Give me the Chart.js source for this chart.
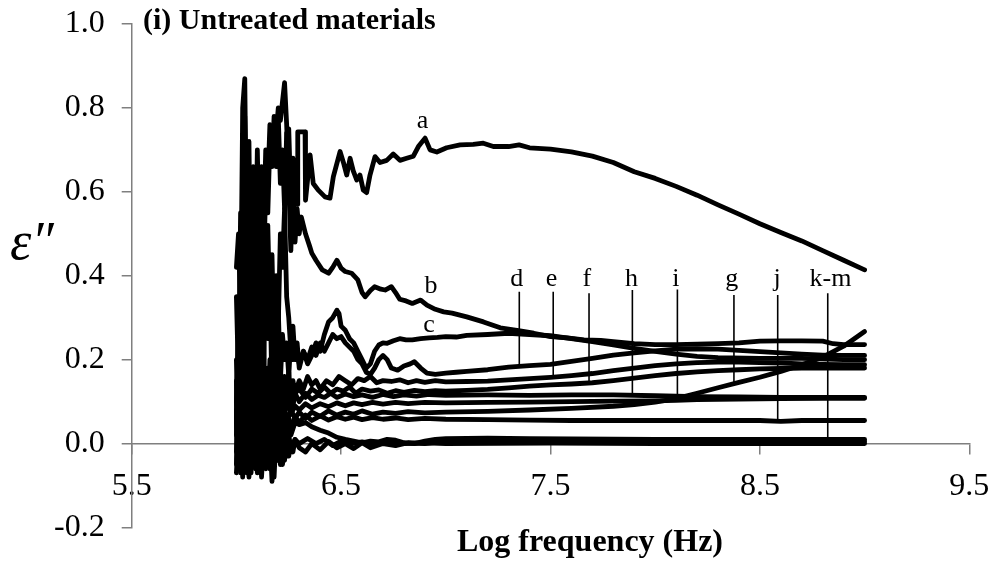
<!DOCTYPE html>
<html>
<head>
<meta charset="utf-8">
<title>Untreated materials - dielectric loss</title>
<script src="https://cdn.jsdelivr.net/npm/chart.js@4.4.1/dist/chart.umd.min.js"></script>
<style>
  html, body { margin: 0; padding: 0; background: #fff; }
  #lossChart { display: block; }
</style>
</head>
<body>
<canvas id="lossChart" width="997" height="565"></canvas>
<script>
// axis ticks
const xTicks = [5.5, 6.5, 7.5, 8.5, 9.5];
const yTicks = [-0.2, 0.0, 0.2, 0.4, 0.6, 0.8, 1.0];

// loss factor curves, [log frequency, e'']
const curveA = [
  [6.00,0.42],[6.01,0.50],[6.02,0.30],[6.03,0.80],[6.04,0.87],[6.05,0.40],[6.06,0.62],[6.07,0.35],[6.08,0.66],[6.09,0.45],
  [6.10,0.62],[6.11,0.38],[6.12,0.60],[6.13,0.50],[6.14,0.70],[6.15,0.62],[6.16,0.76],[6.17,0.70],[6.18,0.74],[6.19,0.66],
  [6.20,0.78],[6.21,0.62],[6.22,0.70],[6.23,0.56],[6.24,0.74],[6.25,0.75],[6.26,0.58],[6.27,0.68],[6.28,0.60],[6.29,0.57],
  [6.293,0.743],[6.328,0.743],[6.33,0.58],[6.352,0.688],[6.367,0.62],[6.391,0.604],[6.423,0.588],[6.447,0.585],[6.463,0.636],[6.495,0.696],
  [6.511,0.67],[6.527,0.64],[6.543,0.68],[6.558,0.65],[6.575,0.628],[6.59,0.64],[6.606,0.604],[6.622,0.598],[6.638,0.64],[6.662,0.684],
  [6.686,0.67],[6.718,0.675],[6.749,0.69],[6.781,0.675],[6.813,0.68],[6.845,0.685],[6.869,0.708],[6.901,0.728],[6.925,0.70],[6.957,0.695],
  [7.004,0.705],[7.068,0.712],[7.131,0.713],[7.179,0.716],[7.227,0.708],[7.30,0.708],[7.35,0.712],[7.40,0.705],[7.50,0.702],[7.60,0.695],
  [7.70,0.685],[7.80,0.67],[7.90,0.648],[8.00,0.632],[8.10,0.613],[8.20,0.592],[8.30,0.569],[8.40,0.547],[8.50,0.524],[8.60,0.503],
  [8.70,0.483],[8.80,0.46],[8.90,0.437],[9.00,0.414]
];
const curveB = [
  [6.00,0.35],[6.01,0.15],[6.02,0.55],[6.03,0.25],[6.04,0.78],[6.05,0.52],[6.06,0.72],[6.07,0.28],[6.08,0.64],[6.09,0.38],
  [6.10,0.70],[6.11,0.45],[6.12,0.66],[6.13,0.40],[6.14,0.62],[6.15,0.55],[6.16,0.72],[6.17,0.66],[6.18,0.78],[6.19,0.74],
  [6.20,0.80],[6.21,0.77],[6.23,0.86],[6.24,0.76],[6.25,0.62],[6.26,0.46],[6.27,0.62],[6.28,0.48],[6.29,0.56],[6.30,0.50],
  [6.31,0.54],[6.33,0.50],[6.35,0.47],[6.36,0.454],[6.38,0.437],[6.41,0.414],[6.44,0.406],[6.46,0.42],[6.48,0.437],[6.50,0.418],
  [6.52,0.41],[6.55,0.406],[6.58,0.39],[6.60,0.36],[6.615,0.35],[6.64,0.365],[6.66,0.374],[6.69,0.368],[6.71,0.366],[6.74,0.374],
  [6.76,0.36],[6.78,0.344],[6.81,0.34],[6.84,0.334],[6.88,0.342],[6.91,0.33],[6.95,0.32],[6.99,0.314],[7.03,0.311],[7.10,0.302],
  [7.18,0.29],[7.26,0.276],[7.34,0.27],[7.42,0.263],[7.50,0.255],[7.58,0.252],[7.66,0.247],[7.74,0.246],[7.80,0.243],[7.90,0.238],
  [8.00,0.236],[8.10,0.236],[8.20,0.237],[8.30,0.238],[8.40,0.24],[8.50,0.244],[8.60,0.245],[8.70,0.245],[8.80,0.244],[8.85,0.238],
  [8.90,0.236],[9.00,0.236]
];
const curveC = [
  [6.00,0.10],[6.01,0.25],[6.02,0.05],[6.03,0.35],[6.04,0.12],[6.05,0.48],[6.06,0.20],[6.07,0.56],[6.08,0.25],[6.09,0.46],
  [6.10,0.18],[6.11,0.50],[6.12,0.30],[6.13,0.58],[6.14,0.35],[6.15,0.52],[6.16,0.30],[6.17,0.45],[6.18,0.22],[6.19,0.40],
  [6.20,0.28],[6.21,0.50],[6.22,0.42],[6.23,0.56],[6.24,0.35],[6.25,0.30],[6.26,0.22],[6.27,0.28],[6.28,0.20],[6.29,0.24],
  [6.30,0.18],[6.32,0.22],[6.34,0.19],[6.36,0.21],[6.38,0.24],[6.40,0.22],[6.42,0.26],[6.44,0.29],[6.46,0.30],[6.48,0.318],
  [6.49,0.31],[6.50,0.28],[6.52,0.27],[6.54,0.25],[6.56,0.24],[6.58,0.22],[6.60,0.20],[6.62,0.18],[6.64,0.19],[6.66,0.22],
  [6.68,0.235],[6.70,0.24],[6.72,0.239],[6.75,0.245],[6.78,0.25],[6.81,0.247],[6.84,0.247],[6.88,0.25],[6.92,0.252],[6.96,0.253],
  [7.00,0.255],[7.05,0.254],[7.10,0.258],[7.20,0.26],[7.30,0.263],[7.40,0.26],[7.50,0.257],[7.60,0.25],[7.70,0.243],[7.80,0.235],
  [7.90,0.227],[8.00,0.22],[8.10,0.213],[8.20,0.208],[8.30,0.205],[8.50,0.203],[8.70,0.203],[8.90,0.20],[9.00,0.20]
];
const curveD = [
  [6.00,0.05],[6.01,0.30],[6.02,0.12],[6.03,0.40],[6.04,0.05],[6.05,0.30],[6.06,0.45],[6.07,0.15],[6.08,0.40],[6.09,0.10],
  [6.10,0.55],[6.11,0.20],[6.12,0.42],[6.13,0.15],[6.14,0.48],[6.15,0.25],[6.16,0.38],[6.17,0.12],[6.18,0.30],[6.19,0.18],
  [6.20,0.32],[6.21,0.15],[6.22,0.26],[6.23,0.20],[6.24,0.24],[6.25,0.16],[6.26,0.25],[6.27,0.20],[6.28,0.24],[6.30,0.19],
  [6.32,0.22],[6.34,0.20],[6.36,0.23],[6.38,0.21],[6.40,0.24],[6.42,0.22],[6.44,0.24],[6.46,0.26],[6.48,0.25],[6.50,0.255],
  [6.52,0.24],[6.54,0.23],[6.56,0.22],[6.58,0.20],[6.60,0.19],[6.62,0.17],[6.64,0.165],[6.66,0.18],[6.68,0.20],[6.70,0.21],
  [6.72,0.20],[6.74,0.18],[6.77,0.175],[6.80,0.185],[6.83,0.19],[6.85,0.195],[6.88,0.18],[6.91,0.168],[6.95,0.165],[7.00,0.168],
  [7.05,0.17],[7.10,0.172],[7.20,0.176],[7.30,0.182],[7.40,0.186],[7.50,0.189],[7.60,0.196],[7.70,0.203],[7.80,0.211],[7.90,0.216],
  [8.00,0.221],[8.10,0.225],[8.20,0.226],[8.30,0.225],[8.40,0.222],[8.50,0.219],[8.60,0.216],[8.70,0.213],[8.80,0.211],[8.90,0.21],[9.00,0.21]
];
const curveE = [
  [6.000,-0.05],[6.005,0.12],[6.010,0.20],[6.015,0.05],[6.020,-0.02],[6.025,0.15],[6.030,0.25],[6.035,0.08],[6.040,0.00],[6.045,0.10],
  [6.050,0.18],[6.055,0.02],[6.060,-0.04],[6.065,0.12],[6.070,0.22],[6.075,0.10],[6.080,0.05],[6.085,0.17],[6.090,0.28],[6.095,0.12],
  [6.100,0.02],[6.105,0.14],[6.110,0.20],[6.115,0.15],[6.120,0.08],[6.125,0.19],[6.130,0.25],[6.135,0.10],[6.140,0.04],[6.145,0.12],
  [6.150,0.18],[6.155,0.13],[6.160,0.10],[6.165,0.17],[6.170,0.22],[6.175,0.12],[6.180,0.06],[6.185,0.15],[6.190,0.20],[6.195,0.16],
  [6.200,0.12],[6.205,0.17],[6.210,0.18],[6.215,0.13],[6.220,0.10],[6.225,0.14],[6.230,0.16],[6.24,0.12],[6.25,0.17],[6.26,0.11],
  [6.27,0.15],[6.28,0.12],[6.30,0.15],
  [6.32,0.13],[6.34,0.16],[6.36,0.14],[6.38,0.15],[6.40,0.13],[6.43,0.15],[6.46,0.14],[6.49,0.16],[6.52,0.15],[6.55,0.14],
  [6.58,0.155],[6.61,0.15],[6.64,0.16],[6.67,0.145],[6.70,0.15],[6.74,0.148],[6.78,0.152],[6.82,0.145],[6.86,0.15],[6.90,0.146],
  [6.95,0.15],[7.00,0.147],[7.10,0.148],[7.20,0.149],[7.30,0.152],[7.40,0.155],[7.50,0.158],[7.60,0.162],[7.70,0.167],[7.80,0.174],
  [7.90,0.18],[8.00,0.186],[8.10,0.19],[8.20,0.193],[8.30,0.194],[8.40,0.194],[8.50,0.193],[8.60,0.192],[8.70,0.19],[8.80,0.189],
  [8.90,0.188],[9.00,0.188]
];
const curveF = [
  [6.00,0.15],[6.01,-0.06],[6.02,0.18],[6.03,-0.03],[6.04,0.22],[6.05,-0.05],[6.06,0.14],[6.07,-0.02],[6.08,0.20],[6.09,0.00],
  [6.10,0.16],[6.11,-0.03],[6.12,0.19],[6.13,0.02],[6.14,0.15],[6.15,0.05],[6.16,0.20],[6.17,0.04],[6.18,0.14],[6.19,0.08],
  [6.20,0.16],[6.21,0.09],[6.22,0.14],[6.23,0.07],[6.24,0.13],[6.25,0.10],[6.26,0.14],[6.27,0.09],[6.28,0.12],[6.30,0.13],
  [6.33,0.11],[6.36,0.13],[6.39,0.12],[6.42,0.135],[6.45,0.12],[6.48,0.13],[6.51,0.125],[6.54,0.135],[6.57,0.12],[6.60,0.13],
  [6.64,0.125],[6.68,0.128],[6.72,0.12],[6.76,0.126],[6.80,0.122],[6.85,0.127],[6.90,0.124],[6.95,0.126],[7.00,0.125],[7.10,0.127],
  [7.20,0.129],[7.30,0.133],[7.40,0.137],[7.50,0.14],[7.60,0.142],[7.70,0.145],[7.80,0.15],[7.90,0.156],[8.00,0.162],[8.10,0.167],
  [8.20,0.171],[8.30,0.174],[8.40,0.176],[8.50,0.178],[8.60,0.179],[8.70,0.18],[8.80,0.18],[8.90,0.18],[9.00,0.18]
];
const curveG = [
  [6.000,0.20],[6.005,0.08],[6.010,-0.02],[6.015,0.06],[6.020,0.14],[6.025,0.08],[6.030,0.02],[6.035,0.15],[6.040,0.26],[6.045,0.10],
  [6.050,0.00],[6.055,0.05],[6.060,0.10],[6.065,0.02],[6.070,-0.07],[6.075,0.03],[6.080,0.12],[6.085,0.06],[6.090,0.02],[6.095,0.09],
  [6.100,0.15],[6.105,0.05],[6.110,-0.04],[6.115,0.04],[6.120,0.10],[6.125,0.04],[6.130,0.00],[6.135,0.07],[6.140,0.12],[6.145,0.06],
  [6.150,0.02],[6.155,0.06],[6.160,0.09],[6.165,0.04],[6.170,0.01],[6.175,0.06],[6.180,0.10],[6.185,0.06],[6.190,0.03],[6.195,0.06],
  [6.20,0.08],[6.21,0.04],[6.22,0.09],[6.24,0.05],[6.26,0.08],[6.28,0.06],[6.30,0.075],[6.33,0.06],[6.36,0.075],[6.40,0.065],
  [6.44,0.078],[6.48,0.068],[6.52,0.075],[6.56,0.07],[6.60,0.078],[6.65,0.07],[6.70,0.075],[6.76,0.072],[6.82,0.076],[6.90,0.073],
  [7.00,0.075],[7.20,0.077],[7.40,0.08],[7.60,0.084],[7.80,0.089],[7.90,0.093],[8.00,0.099],[8.10,0.107],[8.20,0.12],[8.30,0.133],
  [8.40,0.146],[8.50,0.158],[8.60,0.172],[8.70,0.188],[8.80,0.206],[8.90,0.232],[9.00,0.267]
];
const curveH = [
  [6.000,0.08],[6.005,-0.02],[6.010,0.20],[6.015,0.10],[6.020,-0.04],[6.025,0.06],[6.030,0.15],[6.035,0.05],[6.040,0.02],[6.045,0.14],
  [6.050,0.22],[6.055,0.10],[6.060,0.04],[6.065,0.16],[6.070,0.12],[6.075,0.02],[6.080,-0.05],[6.085,0.06],[6.090,0.14],[6.095,0.09],
  [6.100,0.06],[6.105,0.18],[6.110,0.24],[6.115,0.10],[6.120,0.02],[6.125,0.08],[6.130,0.12],[6.135,0.04],[6.140,0.00],[6.145,0.09],
  [6.150,0.13],[6.155,0.08],[6.160,0.05],[6.165,0.11],[6.170,0.16],[6.175,0.10],[6.180,0.07],[6.185,0.10],[6.190,0.12],[6.195,0.08],
  [6.200,0.05],[6.205,0.10],[6.210,0.14],[6.215,0.10],[6.220,0.08],[6.225,0.11],[6.230,0.13],[6.24,0.09],[6.25,0.12],[6.26,0.08],
  [6.28,0.12],[6.30,0.10],[6.33,0.12],
  [6.36,0.105],[6.39,0.115],[6.42,0.11],[6.45,0.12],[6.48,0.11],[6.52,0.118],[6.56,0.112],[6.60,0.116],[6.65,0.11],[6.70,0.117],
  [6.75,0.112],[6.80,0.116],[6.86,0.113],[6.92,0.117],[7.00,0.115],[7.20,0.116],[7.40,0.115],[7.60,0.116],[7.80,0.116],[8.00,0.114],
  [8.20,0.112],[8.40,0.111],[8.60,0.11],[8.80,0.11],[9.00,0.11]
];
const curveI = [
  [6.00,0.02],[6.01,0.12],[6.02,0.00],[6.03,0.18],[6.04,-0.02],[6.05,0.10],[6.06,0.00],[6.07,0.16],[6.08,0.03],[6.09,0.12],
  [6.10,-0.02],[6.11,0.10],[6.12,0.04],[6.13,0.14],[6.14,0.02],[6.15,0.11],[6.16,0.03],[6.17,0.10],[6.18,0.05],[6.19,0.11],
  [6.20,0.04],[6.21,0.10],[6.22,0.06],[6.24,0.10],[6.26,0.07],[6.28,0.09],[6.30,0.08],[6.33,0.095],[6.36,0.085],[6.40,0.095],
  [6.44,0.088],[6.48,0.097],[6.52,0.09],[6.56,0.097],[6.60,0.093],[6.65,0.098],[6.70,0.094],[6.76,0.098],[6.82,0.095],[6.90,0.098],
  [7.00,0.097],[7.20,0.098],[7.40,0.099],[7.60,0.1],[7.80,0.101],[8.00,0.102],[8.10,0.103],[8.20,0.105],[8.40,0.106],[8.60,0.107],
  [8.80,0.108],[9.00,0.108]
];
const curveJ = [
  [6.000,0.10],[6.005,0.02],[6.010,-0.05],[6.015,0.02],[6.020,0.08],[6.025,0.00],[6.030,-0.08],[6.035,0.03],[6.040,0.12],[6.045,0.04],
  [6.050,-0.04],[6.055,0.02],[6.060,0.06],[6.065,0.00],[6.070,-0.06],[6.075,0.02],[6.080,0.09],[6.085,0.03],[6.090,-0.02],[6.095,0.03],
  [6.100,0.07],[6.105,0.00],[6.110,-0.05],[6.115,0.02],[6.120,0.08],[6.125,0.02],[6.130,-0.03],[6.135,0.02],[6.140,0.06],[6.145,0.02],
  [6.150,-0.01],[6.155,0.03],[6.160,0.07],[6.165,0.03],[6.170,0.00],[6.175,0.03],[6.180,0.06],[6.185,0.03],[6.190,0.01],[6.195,0.04],
  [6.20,0.07],[6.22,0.03],[6.24,0.07],[6.26,0.04],[6.28,0.065],[6.30,0.05],[6.33,0.068],[6.36,0.055],[6.40,0.066],[6.44,0.056],
  [6.48,0.064],[6.52,0.058],[6.56,0.063],[6.60,0.057],[6.65,0.062],[6.70,0.058],[6.76,0.061],[6.82,0.057],[6.90,0.06],[7.00,0.058],
  [7.20,0.057],[7.40,0.056],[7.60,0.055],[7.80,0.055],[8.00,0.055],[8.50,0.055],[8.60,0.053],[8.70,0.055],[9.00,0.055]
];
const curveK = [
  [6.00,-0.02],[6.01,0.08],[6.02,-0.07],[6.03,0.05],[6.04,-0.06],[6.05,0.10],[6.06,-0.08],[6.07,0.04],[6.08,-0.05],[6.09,0.06],
  [6.10,-0.07],[6.11,0.03],[6.12,-0.04],[6.13,0.05],[6.14,-0.06],[6.15,0.02],[6.16,-0.03],[6.17,0.04],[6.18,-0.08],[6.19,0.03],
  [6.20,-0.04],[6.21,0.06],[6.22,-0.02],[6.23,0.05],[6.24,0.00],[6.25,0.06],[6.26,0.02],[6.28,0.05],[6.30,0.045],[6.33,0.05],
  [6.36,0.04],[6.40,0.032],[6.44,0.025],[6.48,0.015],[6.52,0.01],[6.56,0.006],[6.60,0.002],[6.64,0.006],[6.68,0.004],[6.72,0.01],
  [6.76,0.008],[6.80,0.002],[6.85,0.0],[6.90,0.006],[6.95,0.01],[7.00,0.012],[7.20,0.013],[7.40,0.012],[7.60,0.011],[8.00,0.01],
  [8.50,0.01],[9.00,0.01]
];
const curveL = [
  [6.00,0.05],[6.01,-0.04],[6.02,0.06],[6.03,-0.02],[6.04,0.04],[6.05,-0.07],[6.06,0.03],[6.07,-0.03],[6.08,0.05],[6.09,-0.06],
  [6.10,0.02],[6.11,-0.02],[6.12,0.04],[6.13,-0.05],[6.14,0.03],[6.15,-0.03],[6.16,0.02],[6.17,-0.09],[6.18,0.01],[6.19,-0.04],
  [6.20,0.02],[6.21,-0.05],[6.22,0.00],[6.23,-0.04],[6.24,0.02],[6.25,-0.03],[6.26,0.00],[6.27,-0.02],[6.28,0.01],[6.30,-0.01],
  [6.33,-0.02],[6.36,0.0],[6.40,-0.015],[6.44,0.005],[6.48,-0.01],[6.52,0.0],[6.56,-0.012],[6.60,0.002],[6.64,-0.01],[6.70,0.0],
  [6.76,-0.005],[6.82,0.002],[6.90,0.0],[7.00,0.005],[7.20,0.004],[7.50,0.006],[8.00,0.005],[9.00,0.005]
];
const curveM = [
  [6.00,-0.07],[6.01,0.02],[6.02,-0.05],[6.03,0.03],[6.04,-0.03],[6.05,0.05],[6.06,-0.06],[6.07,0.01],[6.08,-0.04],[6.09,0.02],
  [6.10,-0.05],[6.11,0.04],[6.12,-0.08],[6.13,0.01],[6.14,-0.03],[6.15,0.03],[6.16,-0.06],[6.17,0.00],[6.18,-0.02],[6.19,0.05],
  [6.20,-0.03],[6.21,0.01],[6.22,-0.05],[6.23,0.0],[6.24,-0.02],[6.25,0.02],[6.26,-0.01],[6.28,0.01],[6.30,0.0],[6.34,0.012],
  [6.38,0.0],[6.42,0.01],[6.46,-0.005],[6.50,0.006],[6.55,0.0],[6.60,0.004],[6.66,-0.002],[6.72,0.003],[6.80,0.0],[6.90,0.002],
  [7.00,0.0],[7.50,0.001],[8.00,0.0],[9.00,0.0]
];

// curve letters and where they sit
const nameText = ['a', 'b', 'c', 'd', 'e', 'f', 'h', 'i', 'g', 'j', 'k-m'];
const nameLogF = [6.889, 6.929, 6.920, 7.339, 7.505, 7.674, 7.887, 8.099, 8.365, 8.582, 8.837];
const nameEps = [0.751, 0.358, 0.266, 0.376, 0.376, 0.376, 0.376, 0.376, 0.376, 0.376, 0.376];

// leader lines from the letters down to their curves
const leaderLogF = [7.351, 7.513, 7.684, 7.891, 8.106, 8.376, 8.585, 8.824];
const leaderTop = [0.362, 0.362, 0.358, 0.366, 0.367, 0.354, 0.354, 0.358];
const leaderBottom = [0.188, 0.160, 0.144, 0.120, 0.100, 0.144, 0.055, 0.012];

const serif = '"Liberation Serif", "Times New Roman", serif';
const axisGrey = '#7f7f7f';

const curves = [curveA, curveB, curveC, curveD, curveE, curveF, curveG, curveH, curveI, curveJ, curveK, curveL, curveM];

const datasets = curves.map(pts => ({
  data: pts,
  borderColor: '#000',
  borderWidth: 4.8,
  borderJoinStyle: 'round',
  borderCapStyle: 'round',
  pointRadius: 0,
  tension: 0,
  fill: false
}));

leaderLogF.forEach((lf, i) => {
  datasets.push({
    data: [[lf, leaderTop[i]], [lf, leaderBottom[i]]],
    borderColor: '#000',
    borderWidth: 1.6,
    pointRadius: 0,
    fill: false
  });
});

// titles and curve letters
const figureText = {
  id: 'figureText',
  afterDraw(chart) {
    const { ctx, scales: { x, y } } = chart;
    ctx.save();
    ctx.fillStyle = '#000';
    ctx.textBaseline = 'alphabetic';

    ctx.font = '26px ' + serif;
    ctx.textAlign = 'center';
    nameText.forEach((t, i) => {
      ctx.fillText(t, x.getPixelForValue(nameLogF[i]), y.getPixelForValue(nameEps[i]));
    });

    ctx.font = 'bold 30px ' + serif;
    ctx.textAlign = 'left';
    ctx.fillText('(i) Untreated materials', 143, 29);

    ctx.font = 'bold 32px ' + serif;
    ctx.textAlign = 'center';
    ctx.fillText('Log frequency (Hz)', 590, 551);

    ctx.font = 'italic 54px ' + serif;
    ctx.textAlign = 'left';
    ctx.fillText('\u03b5\u2033', 10, 259);
    ctx.restore();
  }
};

const ctx = document.getElementById('lossChart');
const chart = new Chart(ctx, {
  type: 'line',
  data: { datasets },
  plugins: [figureText],
  options: {
    responsive: false,
    animation: false,
    layout: { padding: { left: 0, right: 27.7, top: 24, bottom: 37.5 } },
    plugins: {
      legend: { display: false },
      tooltip: { enabled: false }
    },
    scales: {
      x: {
        type: 'linear',
        min: 5.5,
        max: 9.5,
        position: { y: 0 },
        afterBuildTicks: s => { s.ticks = xTicks.map(v => ({ value: v })); },
        afterFit: s => { s.paddingLeft = 0; s.paddingRight = 0; s.paddingTop = 0; s.paddingBottom = 0; },
        grid: { drawOnChartArea: false, drawTicks: true, tickLength: 10, color: axisGrey, lineWidth: 1.5 },
        border: { display: true, color: axisGrey, width: 1.5 },
        ticks: {
          color: '#000',
          font: { family: serif, size: 32 },
          padding: 14,
          maxRotation: 0,
          autoSkip: false,
          callback: v => v.toFixed(1)
        }
      },
      y: {
        type: 'linear',
        min: -0.2,
        max: 1.0,
        afterBuildTicks: s => { s.ticks = yTicks.map(v => ({ value: v })); },
        afterFit: s => { s.width = 131.7; s.paddingTop = 0; s.paddingBottom = 0; },
        grid: { drawOnChartArea: false, drawTicks: true, tickLength: 10, color: axisGrey, lineWidth: 1.5 },
        border: { display: true, color: axisGrey, width: 1.5 },
        ticks: {
          color: '#000',
          font: { family: serif, size: 32 },
          padding: 17,
          autoSkip: false,
          callback: v => v.toFixed(1)
        }
      }
    }
  }
});
</script>
</body>
</html>
